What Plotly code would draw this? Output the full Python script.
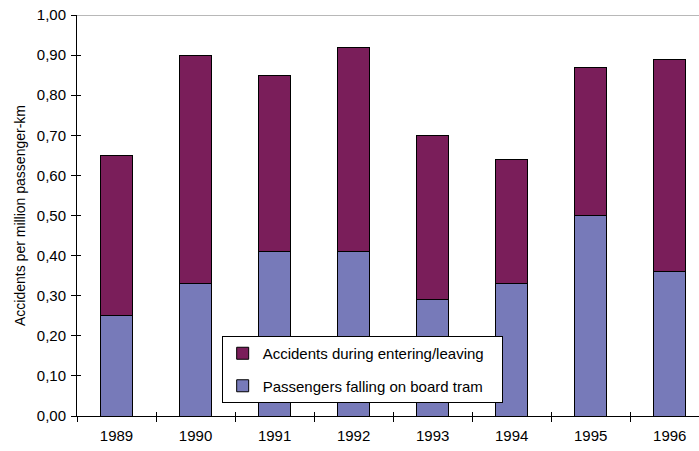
import plotly.graph_objects as go

# Tram accident rates per year, split by cause
years = ["1989", "1990", "1991", "1992", "1993", "1994", "1995", "1996"]
falling_on_board = [0.25, 0.33, 0.41, 0.41, 0.29, 0.33, 0.50, 0.36]
totals = [0.65, 0.90, 0.85, 0.92, 0.70, 0.64, 0.87, 0.89]
entering_leaving = [round(t - f, 2) for t, f in zip(totals, falling_on_board)]

y_ticks = [0.0, 0.1, 0.2, 0.3, 0.4, 0.5, 0.6, 0.7, 0.8, 0.9, 1.0]

FONT = "Liberation Sans, Arial, sans-serif"
PLUM = "#7A1E5A"
PERIWINKLE = "#777AB9"
PAD = "\u00a0" * 3  # right padding inside the legend box

fig = go.Figure()
fig.add_trace(go.Bar(
    x=years, y=falling_on_board, name="Passengers falling on board tram" + PAD,
    marker=dict(color=PERIWINKLE, line=dict(color="black", width=1)),
    width=0.4, legendgroup="b", legendrank=2,
))
fig.add_trace(go.Bar(
    x=years, y=entering_leaving, name="Accidents during entering/leaving" + PAD,
    marker=dict(color=PLUM, line=dict(color="black", width=1)),
    width=0.4, legendgroup="a", legendrank=1,
))
# invisible helper so the overlay axes (inner tick halves) get drawn
fig.add_trace(go.Scatter(x=years, y=totals, xaxis="x2", yaxis="y2",
                         mode="markers", marker=dict(opacity=0),
                         showlegend=False, hoverinfo="skip"))

x_range = [-0.5, 7.37]

fig.update_layout(
    width=699, height=451,
    margin=dict(l=77, r=0, t=15, b=35),
    paper_bgcolor="white", plot_bgcolor="white",
    barmode="stack",
    separators=",.",
    font=dict(family=FONT, size=15, color="black"),
    showlegend=True,
    legend=dict(
        x=0.2326, y=0.1995, xanchor="left", yanchor="top",
        bgcolor="white", bordercolor="black", borderwidth=1,
        traceorder="grouped", tracegroupgap=10, itemwidth=30,
        font=dict(family=FONT, size=15, color="black"),
    ),
    xaxis=dict(
        type="category", range=x_range, showgrid=False,
        showline=True, linecolor="black", linewidth=1,
        ticks="outside", ticklen=5, tickcolor="black", tickson="boundaries",
        tickfont=dict(size=15), ticklabelstandoff=6,
    ),
    yaxis=dict(
        range=[0, 1.0], tickvals=y_ticks, tickformat=".2f",
        showgrid=False, zeroline=False,
        showline=True, linecolor="black", linewidth=1,
        ticks="outside", ticklen=5, tickcolor="black",
        tickfont=dict(size=15), ticklabelstandoff=2,
        title=dict(text="Accidents per million passenger-km",
                   font=dict(size=14), standoff=7),
    ),
    xaxis2=dict(
        type="category", overlaying="x", matches="x", range=x_range,
        showgrid=False, showline=False, showticklabels=False,
        ticks="inside", ticklen=4, tickcolor="black", tickson="boundaries",
    ),
    yaxis2=dict(
        overlaying="y", matches="y", range=[0, 1.0], tickvals=y_ticks,
        showgrid=False, zeroline=False, showline=False, showticklabels=False,
        ticks="inside", ticklen=4, tickcolor="black",
    ),
    shapes=[dict(type="line", xref="paper", yref="y", x0=0, x1=1, y0=1.0, y1=1.0,
                 line=dict(color="#A0A0A0", width=1.5), layer="below")],
)

fig.write_html("out.html")
